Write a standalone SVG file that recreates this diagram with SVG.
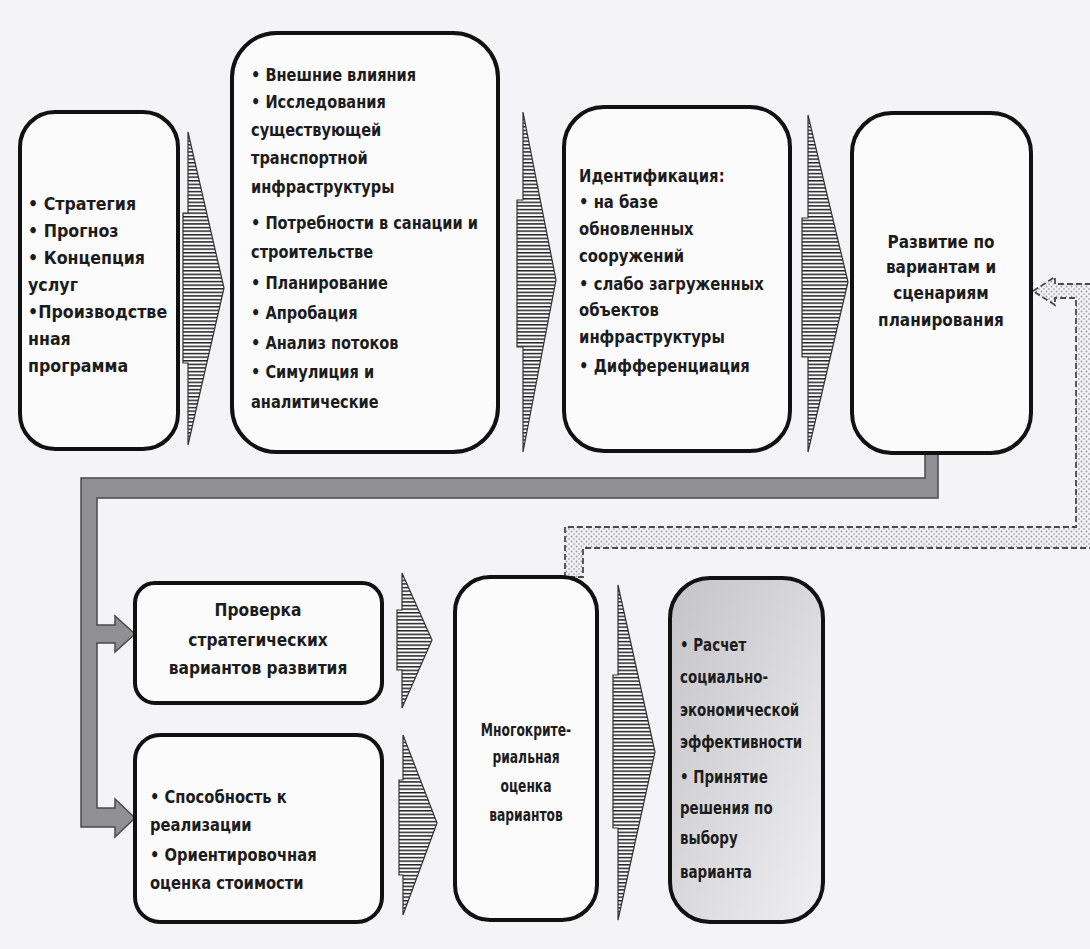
<svg xmlns="http://www.w3.org/2000/svg" width="1090" height="949" viewBox="0 0 1090 949">
<defs>
<pattern id="hatch" width="8" height="3.6" patternUnits="userSpaceOnUse">
<rect width="8" height="3.6" fill="#ffffff"/>
<rect y="0" width="8" height="1.5" fill="#222"/>
</pattern>
<pattern id="dots" width="5" height="5" patternUnits="userSpaceOnUse">
<rect width="5" height="5" fill="#f2f2f4"/>
<circle cx="1.5" cy="1.5" r="0.9" fill="#9a9aa0"/>
<circle cx="4" cy="4" r="0.9" fill="#b0b0b5"/>
</pattern>
<linearGradient id="grad8" x1="0" y1="0" x2="1" y2="1">
<stop offset="0" stop-color="#c3c3c8"/>
<stop offset="1" stop-color="#f0f0f2"/>
</linearGradient>
<style>
.box{fill:#fbfbfc;stroke:#111;stroke-width:4}
.arr{fill:url(#hatch);stroke:#333;stroke-width:1.2}
.t{font-family:"DejaVu Sans Condensed","Liberation Sans",Arial,sans-serif;font-weight:bold;font-size:18px;fill:#1c1c1c}
.c{text-anchor:middle}
</style>
</defs>
<rect width="1090" height="949" fill="#f4f4f6"/>

<g id="connectors">
<polygon points="925,452 938,452 938,498 97,498 97,625 115,625 115,616 135,634 115,652 115,643 97,643 97,808 115,808 115,799 135,818 115,837 115,827 81,827 81,478 925,478" fill="#909094" stroke="#4a4a4e" stroke-width="1.5"/>
<polygon points="1033,291 1055,277 1055,284 1093,284 1093,548 583,548 583,577 565,577 565,527 1076,527 1076,298 1055,298 1055,305" fill="url(#dots)" stroke="#4a4a4e" stroke-width="1.8" stroke-dasharray="6,3"/>
<polygon class="arr" points="188,132 224,288 188,445 188,363 183,363 183,213 188,213"/>
<polygon class="arr" points="523,112 556,280 523,452 523,347 517,347 517,200 523,200"/>
<polygon class="arr" points="808,115 848,282 808,452 808,357 802,357 802,218 808,218"/>
<polygon class="arr" points="402,573 432,640 402,708 402,670 397,670 397,610 402,610"/>
<polygon class="arr" points="403,735 437,823 403,915 403,875 399,875 399,780 403,780"/>
<polygon class="arr" points="618,585 655,752 618,920 618,828 613,828 613,675 618,675"/>
</g>

<g id="n1">
<rect class="box" x="20" y="112" width="158" height="337" rx="35"/>
<g transform="translate(28,0) scale(0.98,1)">
<text class="t"><tspan x="0" y="210">• Стратегия</tspan><tspan x="0" y="237">• Прогноз</tspan><tspan x="0" y="264">• Концепция</tspan><tspan x="0" y="291">услуг</tspan><tspan x="0" y="318">•Производстве</tspan><tspan x="0" y="345">нная</tspan><tspan x="0" y="372">программа</tspan></text>
</g>
</g>

<g id="n2">
<rect class="box" x="232" y="33" width="266" height="419" rx="45"/>
<g transform="translate(251,0) scale(0.9,1)">
<text class="t"><tspan x="0" y="81">• Внешние влияния</tspan><tspan x="0" y="108">• Исследования</tspan><tspan x="0" y="136">существующей</tspan><tspan x="0" y="164">транспортной</tspan><tspan x="0" y="193">инфраструктуры</tspan><tspan x="0" y="229">• Потребности в санации и</tspan><tspan x="0" y="258">строительстве</tspan><tspan x="0" y="289">• Планирование</tspan><tspan x="0" y="319">• Апробация</tspan><tspan x="0" y="349">• Анализ потоков</tspan><tspan x="0" y="378">• Симулиция и</tspan><tspan x="0" y="408">аналитические</tspan></text>
</g>
</g>

<g id="n3">
<rect class="box" x="564" y="107" width="226" height="344" rx="40"/>
<g transform="translate(579,0) scale(0.915,1)">
<text class="t"><tspan x="0" y="182">Идентификация:</tspan><tspan x="0" y="208">• на базе</tspan><tspan x="0" y="235">обновленных</tspan><tspan x="0" y="262">сооружений</tspan><tspan x="0" y="290">• слабо загруженных</tspan><tspan x="0" y="316">объектов</tspan><tspan x="0" y="343">инфраструктуры</tspan><tspan x="0" y="372">• Дифференциация</tspan></text>
</g>
</g>

<g id="n4">
<rect class="box" x="852" y="113" width="179" height="340" rx="40"/>
<g transform="translate(941,0) scale(0.944,1)">
<text class="t c"><tspan x="0" y="248">Развитие по</tspan><tspan x="0" y="273">вариантам и</tspan><tspan x="0" y="299">сценариям</tspan><tspan x="0" y="326">планирования</tspan></text>
</g>
</g>

<g id="n5">
<rect class="box" x="135" y="583" width="247" height="120" rx="20"/>
<g transform="translate(258,0) scale(0.955,1)">
<text class="t c"><tspan x="0" y="616">Проверка</tspan><tspan x="0" y="646">стратегических</tspan><tspan x="0" y="674">вариантов развития</tspan></text>
</g>
</g>

<g id="n6">
<rect class="box" x="135" y="735" width="247" height="187" rx="25"/>
<g transform="translate(150,0) scale(0.91,1)">
<text class="t"><tspan x="0" y="803">• Способность к</tspan><tspan x="0" y="831">реализации</tspan><tspan x="0" y="861">• Ориентировочная</tspan><tspan x="0" y="889">оценка стоимости</tspan></text>
</g>
</g>

<g id="n7">
<rect class="box" x="455" y="577" width="142" height="343" rx="35"/>
<g transform="translate(526,0) scale(0.76,1)">
<text class="t c"><tspan x="0" y="736">Многокрите-</tspan><tspan x="0" y="763">риальная</tspan><tspan x="0" y="792">оценка</tspan><tspan x="0" y="821">вариантов</tspan></text>
</g>
</g>

<g id="n8">
<rect class="box" x="670" y="578" width="153" height="344" rx="40" style="fill:url(#grad8)"/>
<g transform="translate(680,0) scale(0.83,1)">
<text class="t"><tspan x="0" y="651">• Расчет</tspan><tspan x="0" y="683">социально-</tspan><tspan x="0" y="716">экономической</tspan><tspan x="0" y="748">эффективности</tspan><tspan x="0" y="783">• Принятие</tspan><tspan x="0" y="814">решения по</tspan><tspan x="0" y="844">выбору</tspan><tspan x="0" y="878">варианта</tspan></text>
</g>
</g>
</svg>
